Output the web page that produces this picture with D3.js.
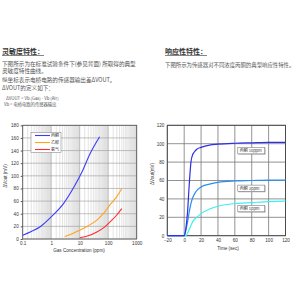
<!DOCTYPE html>
<html>
<head>
<meta charset="utf-8">
<script src="https://cdn.jsdelivr.net/npm/d3@7"></script>
<style>
  body { margin: 0; background: #fff; }
  text { font-family: "Liberation Sans", "Noto Sans CJK SC", sans-serif; }
  .cjk { font-family: "Noto Sans CJK SC", sans-serif; }
</style>
</head>
<body>
<svg id="viz" width="300" height="300"></svg>
<script>
// sensitivity curves (ppm, mV)
var acetone = [[0.1, 6], [0.2, 12], [0.4, 19], [1, 35], [2.7, 56], [6.8, 85], [12, 106], [23, 135], [50, 162]];
var ethanol = [[3, 4], [6, 9], [10, 14], [20, 21], [40, 30], [70, 41], [115, 54], [200, 67], [300, 80]];
var ammonia = [[10, 2], [20, 5], [40, 11], [70, 18], [115, 27], [200, 38], [300, 48]];
var sensNames = ["丙酮", "乙醇", "氨气"];
var sensColors = ["#3b3bff", "#ffa31a", "#ff2b2b"];
var concTicks = [0.1, 1, 10, 100, 1000];
var sensTicks = [0, 20, 40, 60, 80, 100, 120, 140, 160, 180];

// response curves (sec, mV)
var resp10 = [[-20, 0], [0, 0], [2, 8], [4, 26], [6, 56], [8, 80], [10, 88], [12, 91], [15, 94], [20, 96], [30, 98.5], [40, 99.5], [60, 100.5], [80, 101], [100, 101.5], [120, 101.5]];
var resp3 = [[-20, 0], [0, 0], [2, 6], [4, 15], [6, 26], [8, 35], [10, 41], [14, 48], [20, 53], [30, 56], [40, 58], [60, 59.5], [80, 60], [100, 60.5], [120, 60.5]];
var resp1 = [[-20, 0], [2, 0], [4, 3], [6, 7], [8, 11], [10, 15], [15, 20], [20, 24], [30, 29], [40, 32], [60, 35], [80, 36], [100, 37], [120, 37.5]];
var respNames = ["丙酮 10ppm", "丙酮 3ppm", "丙酮 1ppm"];
var respColors = ["#2e2ee8", "#2a8ff0", "#3ff0f0"];
var timeTicks = [-20, 0, 20, 40, 60, 80, 100, 120];
var respTicks = [0, 20, 40, 60, 80, 100, 120];

var svg = d3.select("#viz");

// ---- header texts
function heading(x, y, str) {
  var t = svg.append("text").attr("class", "cjk").attr("x", x).attr("y", y)
    .attr("font-size", 7).attr("font-weight", 700).attr("fill", "#333").text(str);
  var w = t.node().getComputedTextLength();
  svg.append("line").attr("x1", x).attr("x2", x + w).attr("y1", y + 1.5).attr("y2", y + 1.5)
    .attr("stroke", "#333").attr("stroke-width", 0.6);
}
heading(2, 54, "灵敏度特性：");
heading(165, 54, "响应性特性：");

var leftLines = [
  [2, 66, 5.6, "下图所示为在标准试验条件下(参见背面) 所取得的典型"],
  [2, 73, 5.6, "灵敏度特性曲线。"],
  [2, 82, 5.6, "纵坐标表示电桥电路的传感器输出差ΔVOUT。"],
  [2, 90, 5.6, "ΔVOUT的定义如下："],
  [6, 100, 4.3, "ΔVOUT = Vb (Gas) - Vb (Air)"],
  [4, 106, 4.3, "Vb = 电桥电路的传感器输出"]
];
leftLines.forEach(function(d) {
  svg.append("text").attr("class", "cjk").attr("x", d[0]).attr("y", d[1])
    .attr("font-size", d[2]).attr("fill", "#555").text(d[3]);
});
svg.append("text").attr("class", "cjk").attr("x", 165).attr("y", 67)
  .attr("font-size", 5.4).attr("fill", "#555").text("下图所示为传感器对不同浓度丙酮的典型响应性特性。");

// ---- left chart: sensitivity
var x1 = d3.scaleLog().domain([0.1, 1000]).range([22.7, 136.7]);
var y1 = d3.scaleLinear().domain([0, 180]).range([239, 125.3]);
var g1 = svg.append("g");

// minor log grid
var minor = [];
[0.1, 1, 10, 100].forEach(function(dec) {
  for (var k = 1.5; k < 10; k += 0.5) minor.push(dec * k);
});
g1.append("g").selectAll("line").data(minor).enter().append("line")
  .attr("x1", function(d) { return x1(d); }).attr("x2", function(d) { return x1(d); })
  .attr("y1", y1(0)).attr("y2", y1(180))
  .attr("stroke", "#c8c8c8").attr("stroke-width", 0.5);
g1.append("g").selectAll("line").data(concTicks).enter().append("line")
  .attr("x1", function(d) { return x1(d); }).attr("x2", function(d) { return x1(d); })
  .attr("y1", y1(0)).attr("y2", y1(180))
  .attr("stroke", "#999").attr("stroke-width", 0.6);
g1.append("g").selectAll("line").data(sensTicks).enter().append("line")
  .attr("x1", x1(0.1)).attr("x2", x1(1000))
  .attr("y1", function(d) { return y1(d); }).attr("y2", function(d) { return y1(d); })
  .attr("stroke", "#999").attr("stroke-width", 0.6);
g1.append("rect").attr("x", x1(0.1)).attr("y", y1(180))
  .attr("width", x1(1000) - x1(0.1)).attr("height", y1(0) - y1(180))
  .attr("fill", "none").attr("stroke", "#555").attr("stroke-width", 0.8);

var line1 = d3.line().x(function(d) { return x1(d[0]); }).y(function(d) { return y1(d[1]); })
  .curve(d3.curveMonotoneX);
[acetone, ethanol, ammonia].forEach(function(s, i) {
  g1.append("path").datum(s).attr("d", line1).attr("fill", "none")
    .attr("stroke", sensColors[i]).attr("stroke-width", 1.1);
});

var ax1 = g1.append("g").attr("transform", "translate(0," + y1(0) + ")")
  .call(d3.axisBottom(x1).tickValues(concTicks).tickFormat(d3.format("~g")).tickSize(0).tickPadding(3));
var ay1 = g1.append("g").attr("transform", "translate(" + x1(0.1) + ",0)")
  .call(d3.axisLeft(y1).tickValues(sensTicks).tickSize(2).tickPadding(2));
[ax1, ay1].forEach(function(a) {
  a.select(".domain").remove();
  a.selectAll("text").attr("font-size", 4.6).attr("fill", "#333");
  a.selectAll("line").attr("stroke", "#555");
});
g1.append("text").attr("x", 79).attr("y", 252).attr("text-anchor", "middle")
  .attr("font-size", 4.6).attr("fill", "#333").text("Gas Concentration (ppm)");
g1.append("text").attr("transform", "translate(7,176) rotate(-90)").attr("text-anchor", "middle")
  .attr("font-size", 4.6).attr("fill", "#333").text("ΔVout (mV)");

// legend
var leg = g1.append("g");
leg.append("rect").attr("x", 31).attr("y", 132.5).attr("width", 30).attr("height", 20)
  .attr("fill", "#fff").attr("stroke", "#777").attr("stroke-width", 0.5);
sensNames.forEach(function(n, i) {
  var yy = 135.5 + i * 7;
  leg.append("line").attr("x1", 35).attr("x2", 50).attr("y1", yy).attr("y2", yy)
    .attr("stroke", sensColors[i]).attr("stroke-width", 1.1);
  leg.append("text").attr("class", "cjk").attr("x", 51).attr("y", yy + 1.5)
    .attr("font-size", 4).attr("fill", "#333").text(n);
});

// ---- right chart: response
var x2 = d3.scaleLinear().domain([-20, 120]).range([167.3, 285.5]);
var y2 = d3.scaleLinear().domain([0, 120]).range([235.7, 125.3]);
var g2 = svg.append("g");

g2.append("g").selectAll("line").data(timeTicks).enter().append("line")
  .attr("x1", function(d) { return x2(d); }).attr("x2", function(d) { return x2(d); })
  .attr("y1", y2(0)).attr("y2", y2(120))
  .attr("stroke", "#777").attr("stroke-width", 0.8);
g2.append("g").selectAll("line").data(respTicks).enter().append("line")
  .attr("x1", x2(-20)).attr("x2", x2(120))
  .attr("y1", function(d) { return y2(d); }).attr("y2", function(d) { return y2(d); })
  .attr("stroke", "#777").attr("stroke-width", 0.8);
g2.append("rect").attr("x", x2(-20)).attr("y", y2(120))
  .attr("width", x2(120) - x2(-20)).attr("height", y2(0) - y2(120))
  .attr("fill", "none").attr("stroke", "#444").attr("stroke-width", 0.9);

var line2 = d3.line().x(function(d) { return x2(d[0]); }).y(function(d) { return y2(d[1]); })
  .curve(d3.curveMonotoneX);
[resp1, resp3, resp10].forEach(function(s, i) {
  g2.append("path").datum(s).attr("d", line2).attr("fill", "none")
    .attr("stroke", respColors[2 - i]).attr("stroke-width", 1.2);
});

var ax2 = g2.append("g").attr("transform", "translate(0," + y2(0) + ")")
  .call(d3.axisBottom(x2).tickValues(timeTicks).tickSize(0).tickPadding(3.5));
var ay2 = g2.append("g").attr("transform", "translate(" + x2(-20) + ",0)")
  .call(d3.axisLeft(y2).tickValues(respTicks).tickSize(0).tickPadding(3));
[ax2, ay2].forEach(function(a) {
  a.select(".domain").remove();
  a.selectAll("text").attr("font-size", 4.6).attr("fill", "#333");
});
g2.append("text").attr("x", 228).attr("y", 250).attr("text-anchor", "middle")
  .attr("font-size", 4.6).attr("fill", "#333").text("Time (sec)");
g2.append("text").attr("transform", "translate(154,174) rotate(-90)").attr("text-anchor", "middle")
  .attr("font-size", 4.6).attr("fill", "#333").text("ΔVout(mV)");

// curve labels (boxed)
var boxY = [96, 55, 33];
respNames.forEach(function(n, i) {
  var bx = x2(63.5), by = y2(boxY[i]);
  g2.append("rect").attr("x", bx + 0.6).attr("y", by + 0.6).attr("width", 27).attr("height", 6.5)
    .attr("fill", "#999");
  g2.append("rect").attr("x", bx).attr("y", by).attr("width", 27).attr("height", 6.5)
    .attr("fill", "#fff").attr("stroke", "#666").attr("stroke-width", 0.5);
  g2.append("text").attr("class", "cjk").attr("x", bx + 2).attr("y", by + 4.6)
    .attr("font-size", 4).attr("fill", "#333").text(n);
});
</script>
</body>
</html>
